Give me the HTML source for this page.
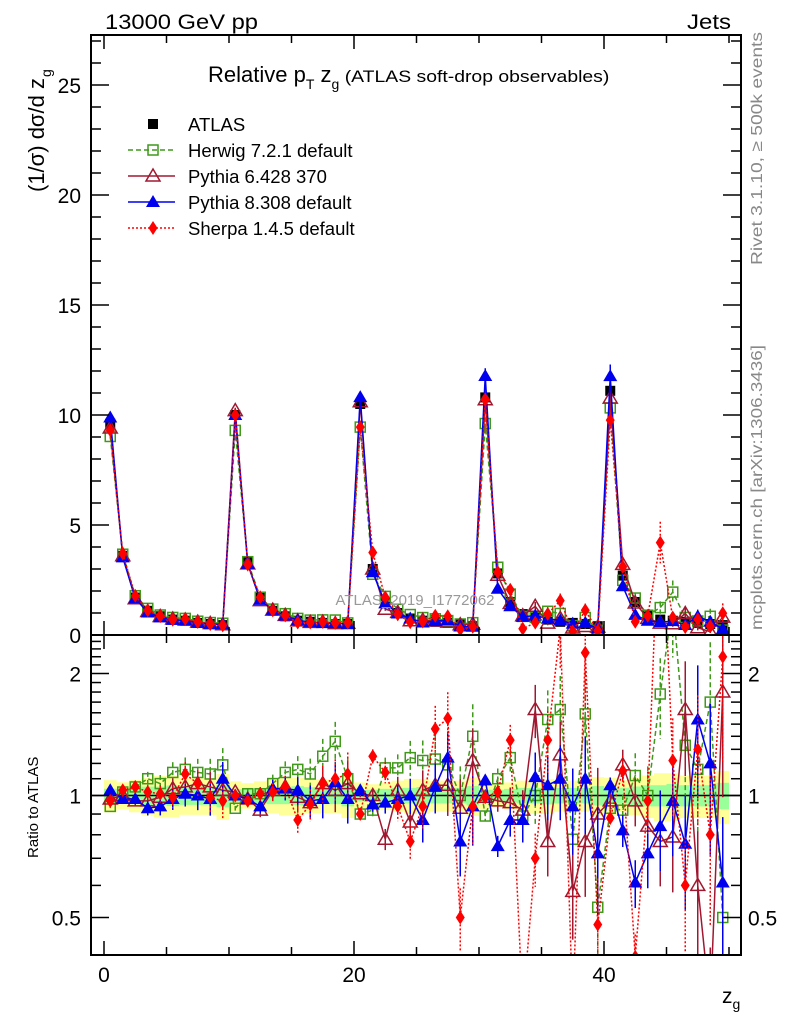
<!DOCTYPE html>
<html><head><meta charset="utf-8"><style>
html,body{margin:0;padding:0;background:#fff;width:786px;height:1024px;overflow:hidden}
svg{display:block;font-family:"Liberation Sans",sans-serif}
</style></head><body>
<svg id="chart" width="786" height="1024" viewBox="0 0 786 1024" xmlns="http://www.w3.org/2000/svg">
<defs>
<clipPath id="cm"><rect x="91" y="35" width="650" height="600"/></clipPath>
<clipPath id="cr"><rect x="91" y="635" width="650" height="320"/></clipPath>
</defs>
<g id="ratioBand" clip-path="url(#cr)"></g>
<g id="mainMarks" clip-path="url(#cm)"></g>
<g id="ratioMarks" clip-path="url(#cr)"></g>
<g id="axes"></g>
<text x="105" y="29" font-size="21" textLength="153" lengthAdjust="spacingAndGlyphs">13000 GeV pp</text>
<text x="687" y="29" font-size="21" textLength="44" lengthAdjust="spacingAndGlyphs">Jets</text>
<text x="208" y="82" font-size="22">Relative p<tspan font-size="14" dy="7">T</tspan><tspan dy="-7"> z</tspan><tspan font-size="14" dy="7">g</tspan><tspan font-size="17" dy="-7" textLength="270" lengthAdjust="spacingAndGlyphs"> (ATLAS soft-drop observables)</tspan></text>
<text transform="translate(44,192) rotate(-90)" font-size="22">(1/σ) dσ/d z<tspan font-size="14" dy="7" dx="1">g</tspan></text>
<text transform="translate(38,858) rotate(-90)" font-size="15">Ratio to ATLAS</text>
<text x="722" y="1003" font-size="21">z<tspan font-size="14" dy="6">g</tspan></text>
<text transform="translate(762,265) rotate(-90)" font-size="16" fill="#888" textLength="233" lengthAdjust="spacingAndGlyphs">Rivet 3.1.10, ≥ 500k events</text>
<text transform="translate(762,630) rotate(-90)" font-size="16" fill="#888" textLength="285" lengthAdjust="spacingAndGlyphs">mcplots.cern.ch [arXiv:1306.3436]</text>
<text x="415" y="605" font-size="15" fill="#999" text-anchor="middle">ATLAS_2019_I1772062</text>
<g id="legend"></g>
</svg>
<script>
const atlasVals=[9.6,3.6,1.7,1.1,0.85,0.7,0.65,0.55,0.5,0.45,
10.0,3.3,1.7,1.1,0.85,0.65,0.6,0.55,0.5,0.5,
10.5,3.0,1.5,1.0,0.75,0.65,0.6,0.55,0.5,0.4,
10.8,2.8,1.5,0.95,0.8,0.7,0.6,0.55,0.5,0.4,
11.1,2.7,1.5,0.9,0.7,0.65,0.6,0.55,0.5,0.45];
const herwigRatio=[0.94,1.02,1.05,1.10,1.07,1.14,1.16,1.14,1.13,1.19,
0.93,1.01,1.01,1.07,1.14,1.16,1.13,1.25,1.36,1.10,
0.90,0.92,1.17,1.17,1.24,1.22,1.23,1.19,1.0,1.40,
0.89,1.10,1.24,0.89,1.0,1.54,1.63,0.78,1.59,0.53,
0.93,0.92,1.12,1.0,1.78,3.0,1.33,1.16,1.70,0.50];
const py6Ratio=[0.98,1.0,0.97,0.97,0.99,1.04,1.05,1.07,1.05,1.03,
1.02,0.98,0.92,1.03,1.05,0.99,0.96,1.07,1.03,1.07,
1.01,1.0,0.78,1.03,0.86,1.03,1.06,1.06,0.93,1.22,
0.99,0.97,0.96,0.92,1.63,0.77,1.26,0.58,0.77,0.90,
0.97,1.19,0.97,0.84,0.77,0.79,1.63,0.6,0.3,1.8];
const py8Ratio=[1.03,0.98,0.98,0.93,0.94,0.98,1.01,1.0,0.98,1.10,
1.0,0.98,0.94,1.04,1.04,1.03,0.97,0.98,1.08,0.98,
1.03,0.95,0.96,0.98,1.0,0.87,1.05,1.24,0.77,0.94,
1.09,0.75,0.87,0.87,1.11,1.06,1.10,0.94,1.10,0.72,
1.06,0.82,0.61,0.72,0.84,0.97,0.76,1.54,1.20,0.61];
const sherpaRatio=[0.97,1.03,1.05,1.02,1.01,0.99,1.13,1.07,0.99,0.97,
1.0,0.97,1.01,1.02,1.05,0.87,0.95,1.07,1.10,1.13,
0.90,1.25,1.14,0.94,0.77,0.94,1.46,1.55,0.50,0.94,
0.99,1.02,1.37,0.3,0.7,1.37,2.6,0.3,2.25,0.48,
0.88,1.15,0.4,0.97,6.0,1.22,0.6,1.3,0.8,2.2];
const relErrInGroup=[0.01,0.02,0.03,0.04,0.05,0.06,0.07,0.08,0.09,0.1];
const groupErrScale=[1,1.3,2,3,4.5];
const bandYellow=[0.07,0.06,0.07,0.08,0.09,0.09,0.08,0.08,0.08,0.1];
const bandGreen=[0.03,0.03,0.035,0.04,0.04,0.045,0.04,0.04,0.04,0.05];
const bandGroupScale=[1.3,1.2,1.1,1.1,1.5];
const xTicks=[0,20,40];
const yTicks=[0,5,10,15,20,25];
const rTicks=[0.5,1,2];

const NS="http://www.w3.org/2000/svg";
const X=v=>104+12.5*v;
const YM=v=>635-22*v;
const YR=r=>795.5-176*Math.log(r);
function mk(tag,attrs,parent){const e=document.createElementNS(NS,tag);for(const k in attrs)e.setAttribute(k,attrs[k]);parent.appendChild(e);return e;}
const gMain=document.getElementById('mainMarks');
const gRat=document.getElementById('ratioMarks');
const gBand=document.getElementById('ratioBand');
const gAx=document.getElementById('axes');
const gLeg=document.getElementById('legend');

atlasVals.forEach((v,i)=>{
  const k=i%10,s=bandGroupScale[Math.floor(i/10)];
  const y1=bandYellow[k]*s, g1=bandGreen[k]*s;
  const r=mk('rect',{x:X(i),y:YR(1+y1),width:12.6,height:YR(1-y1)-YR(1+y1),fill:'#ffff99'},gBand);
  
  
  const r2=mk('rect',{x:X(i),y:YR(1+g1),width:12.6,height:YR(1-g1)-YR(1+g1),fill:'#99ff99'},gBand);
  
  
});
const one=mk('line',{x1:91,x2:741,y1:YR(1),y2:YR(1),stroke:'#000','stroke-width':1.5},gBand);



function marker(type,x,y,color,g){
  let e;
  if(type==='sq') e=mk('rect',{x:x-5,y:y-5,width:10,height:10,fill:color},g);
  else if(type==='osq') e=mk('rect',{x:x-5,y:y-5,width:10,height:10,fill:'none',stroke:color,'stroke-width':1.5},g);
  else if(type==='otri') e=mk('polygon',{points:`${x},${y-7} ${x-7},${y+5} ${x+7},${y+5}`,fill:'none',stroke:color,'stroke-width':1.5},g);
  else if(type==='tri') e=mk('polygon',{points:`${x},${y-7} ${x-7},${y+5} ${x+7},${y+5}`,fill:color},g);
  else e=mk('polygon',{points:`${x},${y-7} ${x-4.5},${y} ${x},${y+7} ${x+4.5},${y}`,fill:color},g);
  return e;
}
const series=[
 {name:'herwig',ratio:herwigRatio,color:'#3f9a1a',dash:'5,3',m:'osq'},
 {name:'pythia6',ratio:py6Ratio,color:'#a01830',dash:'',m:'otri'},
 {name:'pythia8',ratio:py8Ratio,color:'#0000ee',dash:'',m:'tri'},
 {name:'sherpa',ratio:sherpaRatio,color:'#ff0000',dash:'2,2',m:'dia'}
];
const ga=mk('g',{},gMain);


atlasVals.forEach((v,i)=>{
  const a=marker('sq',X(i+0.5),YM(v),'#000',ga);
  
  
});
series.forEach(s=>{
  const gm=mk('g',{},gMain);
  
  
  const gr=mk('g',{},gRat);
  
  
  const pm=[],pr=[];
  s.ratio.forEach((r,i)=>{
    const x=X(i+0.5),v=atlasVals[i]*r;
    const e=relErrInGroup[i%10]*groupErrScale[Math.floor(i/10)];
    pm.push(x+','+YM(v));pr.push(x+','+YR(r));
    const eb=mk('line',{x1:x,x2:x,y1:YM(v*(1+e)),y2:YM(v*(1-e)),stroke:s.color,'stroke-width':1.5,'stroke-dasharray':s.dash},gm);
    
    
    const eb2=mk('line',{x1:x,x2:x,y1:YR(r*(1+e)),y2:YR(Math.max(0.05,r*(1-e))),stroke:s.color,'stroke-width':1.5,'stroke-dasharray':s.dash},gr);
    
    
  });
  const l1=mk('polyline',{points:pm.join(' '),fill:'none',stroke:s.color,'stroke-width':1.5,'stroke-dasharray':s.dash},gm);
  
  
  const l2=mk('polyline',{points:pr.join(' '),fill:'none',stroke:s.color,'stroke-width':1.5,'stroke-dasharray':s.dash},gr);
  
  
  s.ratio.forEach((r,i)=>{
    const x=X(i+0.5);
    const a=marker(s.m,x,YM(atlasVals[i]*r),s.color,gm);
    
    
    const b=marker(s.m,x,YR(r),s.color,gr);
    
    
  });
});

[[35,600],[635,320]].forEach(([y,h])=>{
  const f=mk('rect',{x:91,y:y,width:650,height:h,fill:'none',stroke:'#000','stroke-width':2},gAx);
  
  
});
for(let v=0;v<=50;v+=5){
  const major=xTicks.includes(v), L=major?14:8;
  [[635,-1],[35,1],[955,-1],[635,1]].forEach(([y,d])=>{
    const t=mk('line',{x1:X(v),x2:X(v),y1:y,y2:y+d*L,stroke:'#000','stroke-width':1.5},gAx);
    
    
  });
}
xTicks.forEach(v=>{
  const t=mk('text',{x:X(v),y:982,'font-size':21,'text-anchor':'middle'},gAx);
  t.textContent=v;
  
  
});
for(let v=0;v<=27;v++){
  const major=v%5===0,L=major?18:10;
  [[91,1],[741,-1]].forEach(([x,d])=>{
    const t=mk('line',{x1:x,x2:x+d*L,y1:YM(v),y2:YM(v),stroke:'#000','stroke-width':1.5},gAx);
    
    
  });
}
yTicks.forEach(v=>{
  const t=mk('text',{x:81,y:YM(v)+8,'font-size':21,'text-anchor':'end'},gAx);
  t.textContent=v;
  
  
});
const rt=[];for(let r=0.4;r<2.5;r+=0.1)rt.push(Math.round(r*10)/10);
rt.forEach(r=>{
  const y=YR(r); if(y<636||y>954)return;
  const major=rTicks.includes(r),L=major?18:10;
  [[91,1],[741,-1]].forEach(([x,d])=>{
    const t=mk('line',{x1:x,x2:x+d*L,y1:y,y2:y,stroke:'#000','stroke-width':1.5},gAx);
    
    
  });
});
rTicks.forEach(r=>{
  [[81,'end'],[748,'start']].forEach(([x,a])=>{
    const t=mk('text',{x:x,y:YR(r)+8,'font-size':21,'text-anchor':a},gAx);
    t.textContent=r;
    
    
  });
});
const legItems=[['ATLAS','#000','','sq',false],['Herwig 7.2.1 default','#3f9a1a','5,3','osq',true],['Pythia 6.428 370','#a01830','','otri',true],['Pythia 8.308 default','#0000ee','','tri',true],['Sherpa 1.4.5 default','#ff0000','2,2','dia',true]];
legItems.forEach((it,i)=>{
  const y=124+i*26;
  const g=mk('g',{},gLeg);
  
  
  if(it[4]){mk('line',{x1:128,x2:175,y1:y,y2:y,stroke:it[1],'stroke-width':1.5,'stroke-dasharray':it[2]},g);}
  marker(it[3],153,y,it[1],g);
  const t=mk('text',{x:188,y:y+7,'font-size':18.5},g);
  t.textContent=it[0];
});
</script>
</body></html>
